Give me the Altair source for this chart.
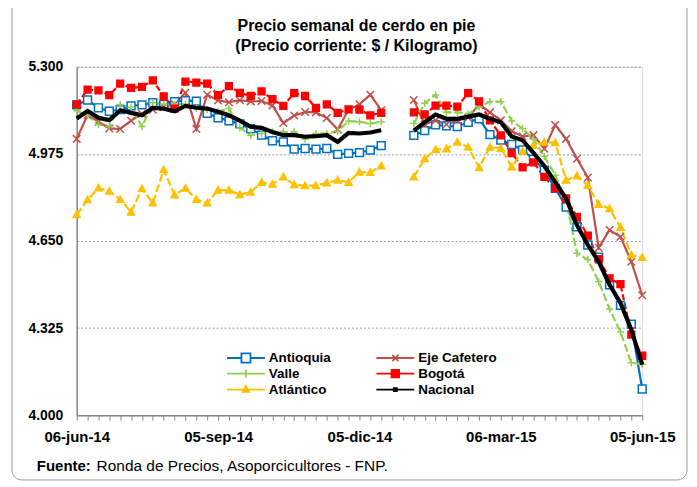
import altair as alt
import pandas as pd

# ---------------- data ----------------
tick_labels = ["06-jun-14", "05-sep-14", "05-dic-14", "06-mar-15", "05-jun-15"]
series_names = ["Antioquia", "Eje Cafetero", "Valle", "Bogotá", "Atlántico", "Nacional"]

# weekly index 0..52 ; weeks 29 and 30 have no data (gap)
weeks_a = list(range(0, 29))
weeks_b = list(range(31, 53))

antioquia_a = [5.158, 5.176, 5.147, 5.134, 5.140, 5.154, 5.158, 5.166, 5.160, 5.170,
               5.174, 5.172, 5.126, 5.110, 5.098, 5.087, 5.069, 5.045, 5.024, 5.020,
               4.993, 4.995, 4.993, 4.995, 4.973, 4.977, 4.980, 4.989, 5.006]
antioquia_b = [5.044, 5.062, 5.083, 5.080, 5.077, 5.093, 5.106, 5.047, 5.027, 5.010,
               4.990, 4.955, 4.914, 4.847, 4.777, 4.703, 4.635, 4.590, 4.487, 4.410,
               4.340, 4.098]

eje_a = [5.031, 5.120, 5.095, 5.070, 5.068, 5.099, 5.125, 5.140, 5.150, 5.160,
         5.203, 5.068, 5.196, 5.174, 5.168, 5.175, 5.171, 5.172, 5.156, 5.090,
         5.118, 5.131, 5.130, 5.109, 5.066, 5.140, 5.160, 5.196, 5.138]
eje_b = [5.176, 5.085, 5.100, 5.085, 5.100, 5.110, 5.160, 5.130, 5.100, 5.060,
         5.040, 5.045, 4.994, 5.083, 5.031, 4.957, 4.887, 4.625, 4.691, 4.666,
         4.573, 4.448]

valle_a = [5.136, 5.118, 5.085, 5.077, 5.158, 5.149, 5.077, 5.166, 5.160, 5.160,
           5.160, 5.145, 5.140, 5.134, 5.144, 5.072, 5.045, 5.051, 5.057, 5.057,
           5.057, 5.030, 5.051, 5.051, 5.060, 5.097, 5.095, 5.088, 5.095]
valle_b = [5.088, 5.164, 5.195, 5.130, 5.130, 5.124, 5.150, 5.170, 5.170, 5.098,
           5.070, 5.031, 4.966, 4.895, 4.802, 4.604, 4.581, 4.498, 4.396, 4.311,
           4.196, 4.190]

bogota_a = [5.160, 5.215, 5.212, 5.194, 5.237, 5.221, 5.225, 5.249, 5.190, 5.144,
            5.245, 5.241, 5.237, 5.194, 5.228, 5.203, 5.191, 5.208, 5.179, 5.154,
            5.202, 5.191, 5.147, 5.160, 5.128, 5.141, 5.140, 5.119, 5.128]
bogota_b = [5.130, 5.122, 5.155, 5.155, 5.151, 5.202, 5.171, 5.100, 5.044, 4.978,
            4.925, 4.943, 4.889, 4.846, 4.809, 4.740, 4.670, 4.582, 4.511, 4.489,
            4.301, 4.222]

atlantico_a = [4.748, 4.804, 4.848, 4.836, 4.805, 4.758, 4.845, 4.792, 4.916, 4.822,
               4.847, 4.805, 4.792, 4.840, 4.840, 4.823, 4.832, 4.869, 4.862, 4.889,
               4.860, 4.857, 4.857, 4.867, 4.877, 4.869, 4.907, 4.906, 4.930]
atlantico_b = [4.889, 4.957, 4.991, 4.994, 5.019, 5.000, 4.924, 5.000, 4.996, 4.927,
               4.985, 5.007, 5.019, 5.017, 4.877, 4.893, 4.858, 4.787, 4.771, 4.701,
               4.598, 4.589]

nacional_a = [5.107, 5.135, 5.110, 5.101, 5.138, 5.128, 5.119, 5.147, 5.144, 5.134,
              5.154, 5.147, 5.144, 5.132, 5.119, 5.099, 5.076, 5.072, 5.057, 5.045,
              5.045, 5.039, 5.041, 5.045, 5.020, 5.053, 5.051, 5.055, 5.063]
nacional_b = [5.062, 5.093, 5.122, 5.106, 5.106, 5.114, 5.122, 5.106, 5.093, 5.040,
              5.026, 4.979, 4.930, 4.870, 4.809, 4.709, 4.635, 4.573, 4.487, 4.419,
              4.319, 4.189]

title_lines = ["Precio semanal de cerdo en pie", "(Precio corriente: $ / Kilogramo)"]
footer_bold = ["Fuente:"]
footer_text = ["Ronda de Precios, Asoporcicultores  - FNP."]

# ---------------- build table ----------------
values = {
    "Antioquia": (antioquia_a, antioquia_b),
    "Eje Cafetero": (eje_a, eje_b),
    "Valle": (valle_a, valle_b),
    "Bogotá": (bogota_a, bogota_b),
    "Atlántico": (atlantico_a, atlantico_b),
    "Nacional": (nacional_a, nacional_b),
}
rows = []
for s in series_names:
    a, b = values[s]
    for w, v in zip(weeks_a, a):
        rows.append({"week": w, "value": v, "series": s, "seg": 0})
    for w, v in zip(weeks_b, b):
        rows.append({"week": w, "value": v, "series": s, "seg": 1})
df = pd.DataFrame(rows)
foot = pd.DataFrame({"b": footer_bold, "t": footer_text})
ttl = pd.DataFrame({"t1": [title_lines[0]], "t2": [title_lines[1]]})

# ---------------- styles ----------------
FONT = "Liberation Sans"
line_colors = ["#0070C0", "#C0504D", "#92D050", "#FF0000", "#FFC000", "#000000"]
fill_colors = ["#FFFFFF", "#C0504D", "#92D050", "#FF0000", "#FFC000", "#000000"]
dashes = [[1, 0], [1, 0], [8, 3], [6, 3], [8, 3], [1, 0]]
marker_paths = [
    "M-1,-1H1V1H-1Z",
    "M-1,-1L1,1M-1,1L1,-1",
    "M-1,0H1M0,-1V1",
    "M-1,-1H1V1H-1Z",
    "M0,-1.1L1.1,0.9H-1.1Z",
    "M-0.5,-0.5H0.5V0.5H-0.5Z",
]
marker_sizes = [62, 36, 55, 40, 56, 10]
legend_paths = [
    "M-1,0H-0.24M0.24,0H1M-0.24,-0.24H0.24V0.24H-0.24Z",
    "M-1,0H1M-0.16,-0.16L0.16,0.16M-0.16,0.16L0.16,-0.16",
    "M-1,0H1M0,-0.22V0.22",
    "M-1,0H1M-0.2,-0.2H0.2V0.2H-0.2Z",
    "M-1,0H1M0,-0.2L0.17,0.12H-0.17Z",
    "M-1,0H1M-0.08,-0.08H0.08V0.08H-0.08Z",
]
legend_widths = [1.8, 1.8, 1.8, 1.8, 1.8, 3.5]

xs = alt.X("week:Q", scale=alt.Scale(domain=[0, 52], nice=False, zero=False),
           axis=alt.Axis(values=list(range(53)), title=None, grid=False,
                         labelExpr="datum.value % 13 == 0 ? " + str(tick_labels) + "[datum.value / 13] : ''",
                         labelOverlap=False, labelFlush=False, tickSize=5, tickColor="#888",
                         domainColor="#888", domainWidth=1.5, labelPadding=9,
                         labelFont=FONT, labelFontSize=15, labelFontWeight="bold",
                         labelColor="#000"))
ys = alt.Y("value:Q", scale=alt.Scale(domain=[4.0, 5.3], nice=False, zero=False),
           axis=alt.Axis(values=[4.0, 4.325, 4.65, 4.975, 5.3], format=".3f", title=None,
                         ticks=False, labelPadding=14, domainColor="#888", domainWidth=1.5,
                         gridColor="#9a9a9a", gridDash=[2, 2], gridWidth=1,
                         labelFont=FONT, labelFontSize=14, labelFontWeight="bold",
                         labelColor="#000"))

regional = df[df.series != "Nacional"]

lines = alt.Chart(regional).mark_line(strokeWidth=2.2).encode(
    x=xs, y=ys,
    color=alt.Color("series:N", scale=alt.Scale(domain=series_names, range=line_colors), legend=None),
    strokeDash=alt.StrokeDash("series:N", scale=alt.Scale(domain=series_names, range=dashes), legend=None),
    detail="seg:N",
)

points = alt.Chart(regional).mark_point(opacity=1, strokeWidth=1.5).encode(
    x=xs, y=ys,
    shape=alt.Shape("series:N", scale=alt.Scale(domain=series_names, range=marker_paths), legend=None),
    stroke=alt.Stroke("series:N", scale=alt.Scale(domain=series_names, range=line_colors), legend=None),
    fill=alt.Fill("series:N", scale=alt.Scale(domain=series_names, range=fill_colors), legend=None),
    size=alt.Size("series:N", scale=alt.Scale(domain=series_names, range=marker_sizes), legend=None),
)

nacional = alt.Chart(df[df.series == "Nacional"]).mark_line(color="#000", strokeWidth=4.2).encode(
    x=xs, y=ys, detail="seg:N")

legend_layer = alt.Chart(df).transform_filter("datum.week < 0").mark_point(opacity=1).encode(
    x=xs, y=ys,
    shape=alt.Shape("series:N", scale=alt.Scale(domain=series_names, range=legend_paths),
                    legend=alt.Legend(title=None, orient="none", legendX=150, legendY=284.5,
                                      direction="horizontal",
                                      columns=2, columnPadding=44, clipHeight=15.5,
                                      rowPadding=0, symbolSize=1444, labelOffset=3,
                                      labelFont=FONT, labelFontSize=13.5, labelFontWeight="bold",
                                      labelColor="#000", padding=0)),
    stroke=alt.Stroke("series:N", scale=alt.Scale(domain=series_names, range=line_colors)),
    fill=alt.Fill("series:N", scale=alt.Scale(domain=series_names, range=fill_colors)),
    strokeWidth=alt.StrokeWidth("series:N", scale=alt.Scale(domain=series_names, range=legend_widths)),
)

frame = alt.Chart(foot).mark_rect(fillOpacity=0, stroke="#999", strokeWidth=1, cornerRadius=10).encode(
    x=alt.value(-65), x2=alt.value(613), y=alt.value(-120), y2=alt.value(415))

title1 = alt.Chart(ttl).mark_text(align="center", baseline="middle", font=FONT, fontSize=16,
                                  fontWeight="bold", color="#000").encode(
    text="t1:N", x=alt.value(281), y=alt.value(-41))
title2 = alt.Chart(ttl).mark_text(align="center", baseline="middle", font=FONT, fontSize=16,
                                  fontWeight="bold", color="#000").encode(
    text="t2:N", x=alt.value(281), y=alt.value(-21))

foot_b = alt.Chart(foot).mark_text(align="left", baseline="middle", font=FONT, fontSize=15,
                                   fontWeight="bold", color="#000").encode(
    text="b:N", x=alt.value(-40), y=alt.value(401))
foot_t = alt.Chart(foot).mark_text(align="left", baseline="middle", font=FONT, fontSize=15.5,
                                   color="#000").encode(
    text="t:N", x=alt.value(20), y=alt.value(401))

chart = alt.layer(lines, points, nacional, legend_layer, frame, title1, title2, foot_b, foot_t).resolve_scale(
    shape="independent", stroke="independent", fill="independent", size="independent",
    strokeWidth="independent", color="independent", strokeDash="independent",
).properties(
    width=568, height=350,
    autosize=alt.AutoSizeParams(type="none"),
    padding={"left": 69, "top": 58, "right": 47, "bottom": 66},
).configure_view(stroke="#aaa", strokeWidth=1).configure(background="white")

chart.save("out.html", embed_options={"renderer": "svg", "actions": False})
